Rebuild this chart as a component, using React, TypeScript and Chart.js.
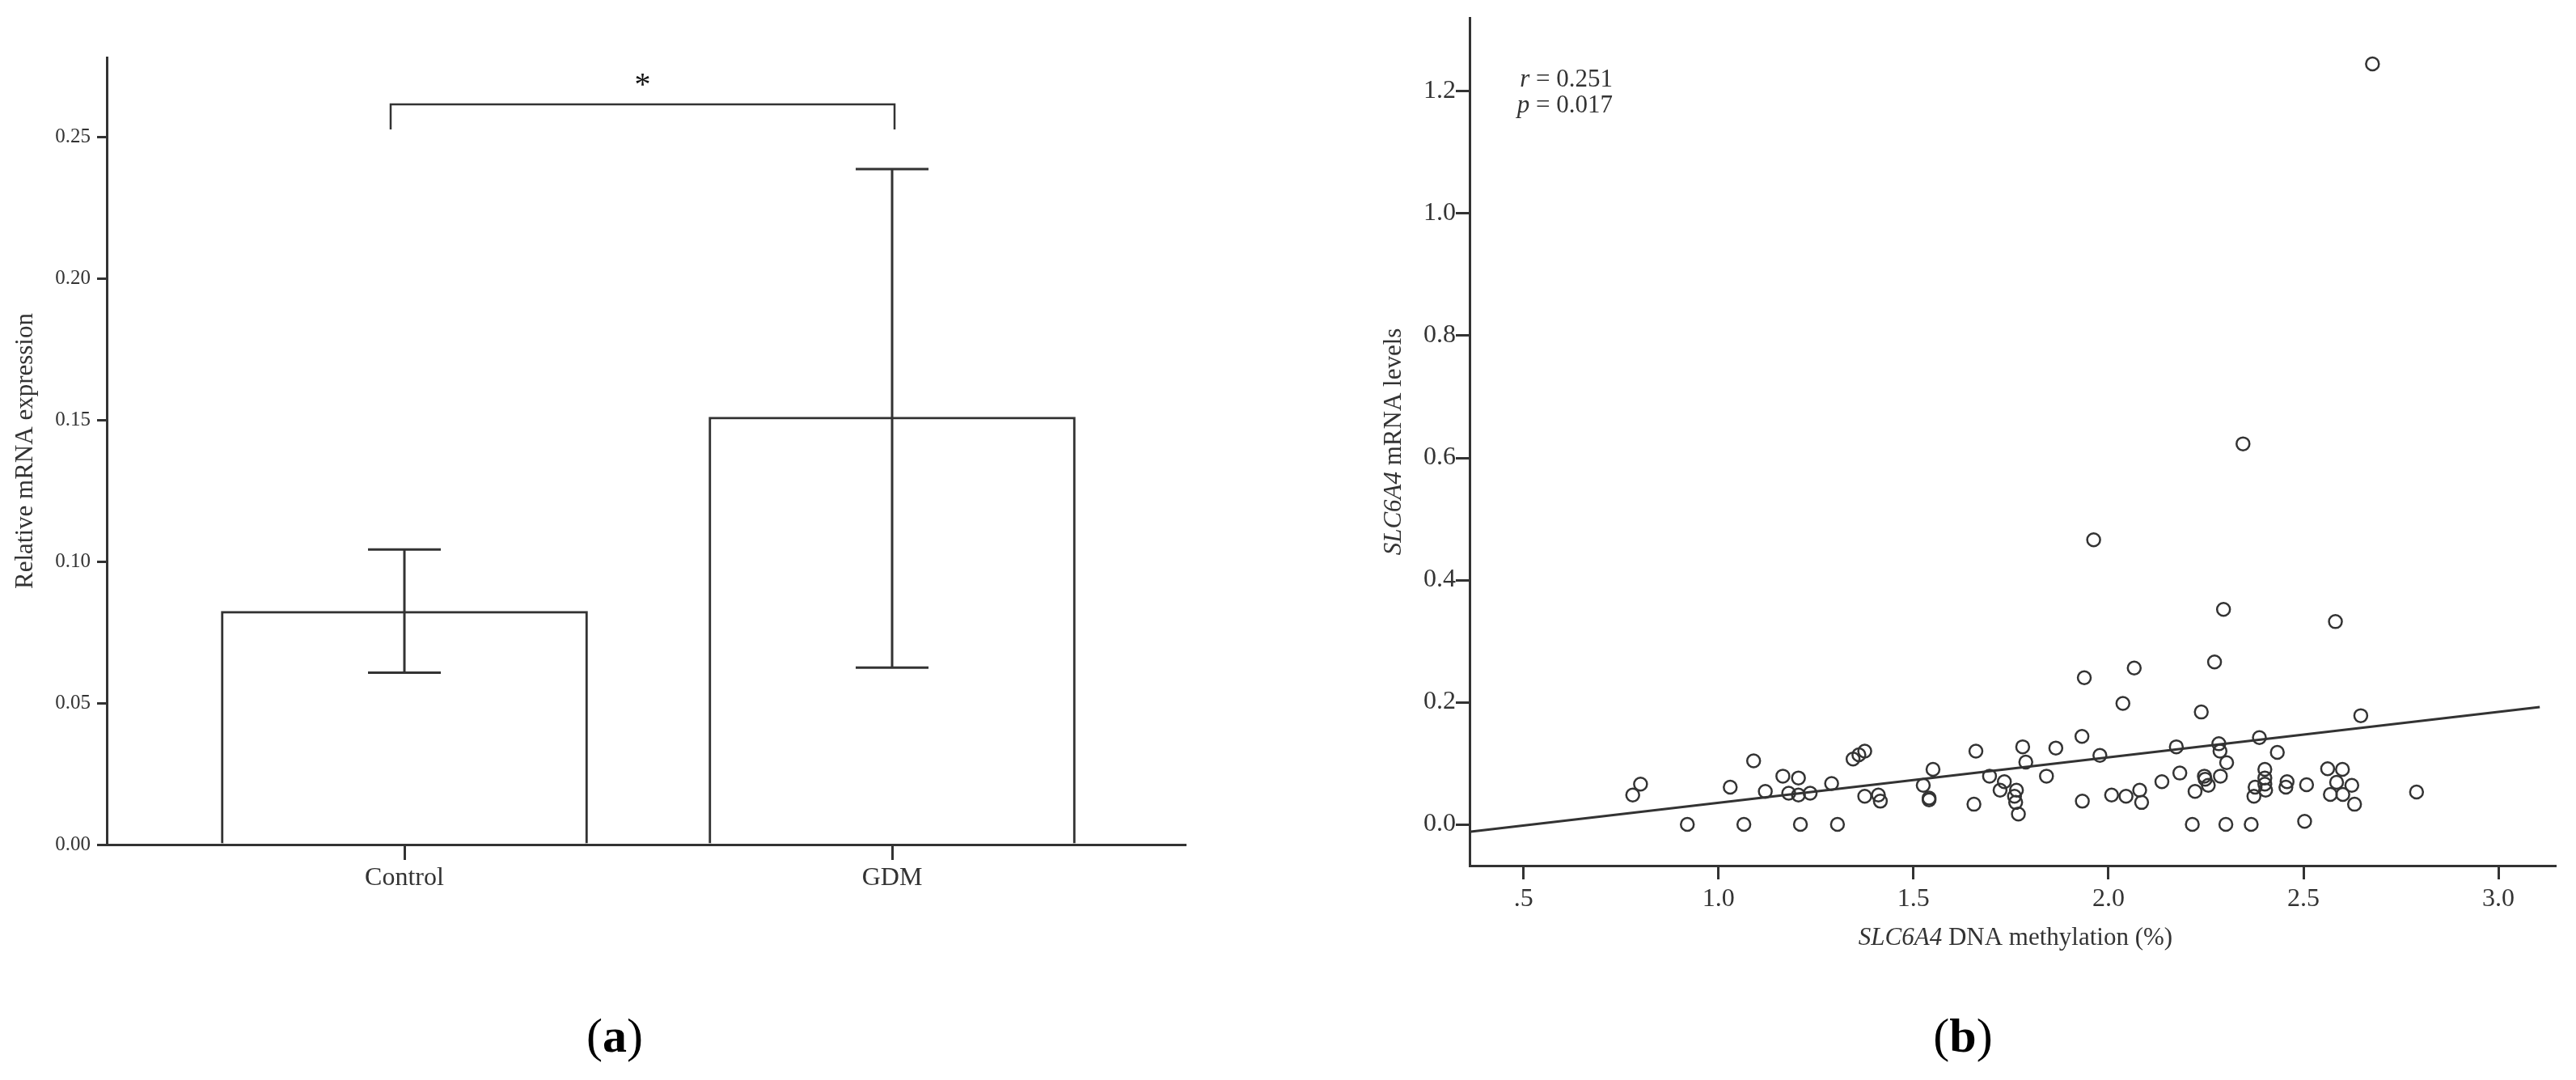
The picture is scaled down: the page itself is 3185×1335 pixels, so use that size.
import React, { useEffect, useRef } from 'react';
import { Chart, registerables } from 'chart.js';

Chart.register(...registerables);

const FONT = "'Liberation Serif', 'Times New Roman', serif";
const INK = '#333333';

// ---------- Panel (a): bar chart with SD error bars ----------
const barCategories = ['Control', 'GDM'];
const barMeans = [0.0824, 0.151];
const barUpper = [0.1042, 0.2386];
const barLower = [0.0607, 0.0625];
const bracketTop = 0.2614;
const bracketLegEnd = 0.2526;
const sigMark = '*';
const yTicksA = [0, 0.05, 0.1, 0.15, 0.2, 0.25];
const yLabelA = 'Relative mRNA expression';

// ---------- Panel (b): scatter with regression line ----------
const methylation = [
  0.78, 0.80, 0.92, 1.03, 1.065, 1.09, 1.12, 1.165, 1.18, 1.205,
  1.205, 1.21, 1.235, 1.29, 1.305, 1.345, 1.36, 1.375, 1.375, 1.41,
  1.415, 1.525, 1.54, 1.54, 1.55, 1.655, 1.66, 1.695, 1.722, 1.733,
  1.764, 1.759, 1.762, 1.769, 1.78, 1.788, 1.841, 1.865, 1.932, 1.933,
  1.938, 1.962, 1.978, 2.008, 2.037, 2.045, 2.066, 2.08, 2.085, 2.137,
  2.174, 2.183, 2.215, 2.222, 2.238, 2.246, 2.248, 2.256, 2.272, 2.283,
  2.286, 2.287, 2.295, 2.301, 2.303, 2.345, 2.366, 2.373, 2.376, 2.387,
  2.401, 2.401, 2.401, 2.403, 2.433, 2.455, 2.458, 2.503, 2.508, 2.562,
  2.569, 2.582, 2.585, 2.6, 2.601, 2.624, 2.631, 2.647, 2.677, 2.79,
];
const mrnaLevels = [
  0.048, 0.066, 0.0, 0.061, 0.0, 0.104, 0.054, 0.079, 0.051, 0.076,
  0.048, 0.0, 0.051, 0.067, 0.0, 0.107, 0.114, 0.12, 0.046, 0.048,
  0.038, 0.064, 0.043, 0.04, 0.09, 0.033, 0.12, 0.079, 0.056, 0.07,
  0.056, 0.046, 0.036, 0.017, 0.127, 0.102, 0.079, 0.125, 0.144, 0.038,
  0.24, 0.466, 0.113, 0.048, 0.198, 0.046, 0.256, 0.056, 0.036, 0.07,
  0.127, 0.084, 0.0, 0.054, 0.184, 0.079, 0.074, 0.064, 0.266, 0.132,
  0.12, 0.079, 0.352, 0.0, 0.101, 0.623, 0.0, 0.046, 0.061, 0.142,
  0.09, 0.076, 0.066, 0.056, 0.118, 0.061, 0.07, 0.005, 0.065, 0.091,
  0.049, 0.332, 0.069, 0.09, 0.049, 0.064, 0.033, 0.178, 1.245, 0.053,
];
const fitX = [0.365, 3.106];
const fitY = [-0.012, 0.192];
const xTicksB = [0.5, 1.0, 1.5, 2.0, 2.5, 3.0];
const yTicksB = [0, 0.2, 0.4, 0.6, 0.8, 1.0, 1.2];
const geneName = 'SLC6A4';
const yLabelBRest = ' mRNA levels';
const xLabelBRest = ' DNA methylation (%)';
const statR = '0.251';
const statP = '0.017';

type Seg = { t: string; italic?: boolean };

function drawRich(
  ctx: CanvasRenderingContext2D,
  segs: Seg[],
  x: number,
  y: number,
  size: number,
  align: 'left' | 'center' | 'right'
) {
  const fontFor = (s: Seg) => `${s.italic ? 'italic ' : ''}${size}px ${FONT}`;
  let total = 0;
  const widths = segs.map((s) => {
    ctx.font = fontFor(s);
    const w = ctx.measureText(s.t).width;
    total += w;
    return w;
  });
  let cx = align === 'left' ? x : align === 'center' ? x - total / 2 : x - total;
  ctx.textAlign = 'left';
  ctx.textBaseline = 'middle';
  segs.forEach((s, i) => {
    ctx.font = fontFor(s);
    ctx.fillText(s.t, cx, y);
    cx += widths[i];
  });
}

const annotA = {
  id: 'annotA',
  afterDatasetsDraw(chart: any) {
    const { ctx } = chart;
    const x = chart.scales.x;
    const y = chart.scales.y;
    ctx.save();
    ctx.strokeStyle = INK;
    ctx.lineWidth = 3;
    barCategories.forEach((_, i) => {
      const px = x.getPixelForValue(i);
      const top = y.getPixelForValue(barUpper[i]);
      const bot = y.getPixelForValue(barLower[i]);
      ctx.beginPath();
      ctx.moveTo(px, top);
      ctx.lineTo(px, bot);
      ctx.moveTo(px - 45, top);
      ctx.lineTo(px + 45, top);
      ctx.moveTo(px - 45, bot);
      ctx.lineTo(px + 45, bot);
      ctx.stroke();
    });
    const x0 = x.getPixelForValue(0) - 17;
    const x1 = x.getPixelForValue(1) + 3;
    const yb = y.getPixelForValue(bracketTop);
    const yl = y.getPixelForValue(bracketLegEnd);
    ctx.lineWidth = 2.5;
    ctx.beginPath();
    ctx.moveTo(x0, yl);
    ctx.lineTo(x0, yb);
    ctx.lineTo(x1, yb);
    ctx.lineTo(x1, yl);
    ctx.stroke();
    ctx.fillStyle = '#111';
    ctx.font = `40px ${FONT}`;
    ctx.textAlign = 'center';
    ctx.textBaseline = 'alphabetic';
    ctx.fillText(sigMark, (x0 + x1) / 2, yb - 12);

    ctx.save();
    ctx.translate(32, (chart.chartArea.top + chart.chartArea.bottom) / 2);
    ctx.rotate(-Math.PI / 2);
    ctx.fillStyle = INK;
    ctx.font = `31px ${FONT}`;
    ctx.textAlign = 'center';
    ctx.textBaseline = 'middle';
    ctx.fillText(yLabelA, 0, 0);
    ctx.restore();
    ctx.restore();
  },
};

const annotB = {
  id: 'annotB',
  afterDraw(chart: any) {
    const { ctx, chartArea } = chart;
    ctx.save();
    ctx.fillStyle = INK;
    ctx.save();
    ctx.translate(84, (chartArea.top + chartArea.bottom) / 2);
    ctx.rotate(-Math.PI / 2);
    drawRich(ctx, [{ t: geneName, italic: true }, { t: yLabelBRest }], 0, 0, 31, 'center');
    ctx.restore();
    drawRich(ctx, [{ t: geneName, italic: true }, { t: xLabelBRest }], 852, 1160, 31, 'center');
    drawRich(ctx, [{ t: 'r', italic: true }, { t: ' = ' + statR }], 354, 99, 31, 'right');
    drawRich(ctx, [{ t: 'p', italic: true }, { t: ' = ' + statP }], 354, 131, 31, 'right');
    ctx.restore();
  },
};

function PanelA() {
  const ref = useRef<HTMLCanvasElement | null>(null);
  useEffect(() => {
    if (!ref.current) return;
    const chart = new Chart(ref.current, {
      type: 'bar',
      data: {
        datasets: [
          {
            data: barMeans.map((v, i) => ({ x: i, y: v })),
            backgroundColor: '#ffffff',
            borderColor: INK,
            borderWidth: 3,
            barThickness: 453,
          } as any,
        ],
      },
      options: {
        responsive: false,
        animation: false,
        layout: { padding: { left: 0, top: 71, right: 55, bottom: 0 } },
        plugins: { legend: { display: false }, tooltip: { enabled: false } },
        scales: {
          x: {
            type: 'linear',
            offset: false,
            min: -0.6103,
            max: 1.6003,
            afterBuildTicks: (s: any) => {
              s.ticks = barCategories.map((_, i) => ({ value: i }));
            },
            ticks: {
              callback: (v: any) => barCategories[v] ?? '',
              font: { family: FONT, size: 32 },
              color: INK,
              padding: 3,
              autoSkip: false,
              maxRotation: 0,
            },
            grid: { display: true, offset: false, drawOnChartArea: false, drawTicks: true, tickLength: 19, color: INK, lineWidth: 3 },
            border: { display: true, color: INK, width: 3 },
            afterFit: (s: any) => {
              s.height = 156;
            },
          } as any,
          y: {
            type: 'linear',
            min: 0,
            max: 0.278,
            afterBuildTicks: (s: any) => {
              s.ticks = yTicksA.map((v) => ({ value: v }));
            },
            ticks: {
              callback: (v: any) => Number(v).toFixed(2),
              font: { family: FONT, size: 25 },
              color: INK,
              padding: 8,
            },
            grid: { display: true, drawOnChartArea: false, drawTicks: true, tickLength: 12, color: INK, lineWidth: 3 },
            border: { display: true, color: INK, width: 3 },
            afterFit: (s: any) => {
              s.width = 132;
            },
          } as any,
        },
      },
      plugins: [annotA],
    });
    return () => chart.destroy();
  }, []);
  return <canvas ref={ref} width={1520} height={1200} style={{ position: 'absolute', left: 0, top: 0, width: 1520, height: 1200 }} />;
}

function PanelB() {
  const ref = useRef<HTMLCanvasElement | null>(null);
  useEffect(() => {
    if (!ref.current) return;
    const chart = new Chart(ref.current, {
      type: 'scatter',
      data: {
        datasets: [
          {
            type: 'line',
            data: fitX.map((v, i) => ({ x: v, y: fitY[i] })),
            borderColor: INK,
            borderWidth: 3,
            pointRadius: 0,
            fill: false,
            tension: 0,
            order: 2,
          } as any,
          {
            type: 'scatter',
            data: methylation.map((v, i) => ({ x: v, y: mrnaLevels[i] })),
            pointStyle: 'circle',
            pointRadius: 8,
            borderWidth: 2.5,
            borderColor: INK,
            backgroundColor: 'rgba(0,0,0,0)',
            order: 1,
          } as any,
        ],
      },
      options: {
        responsive: false,
        animation: false,
        layout: { padding: { left: 0, top: 22, right: 26, bottom: 0 } },
        plugins: { legend: { display: false }, tooltip: { enabled: false } },
        scales: {
          x: {
            type: 'linear',
            min: 0.3616,
            max: 3.145,
            afterBuildTicks: (s: any) => {
              s.ticks = xTicksB.map((v) => ({ value: v }));
            },
            ticks: {
              callback: (v: any) => Number(v).toFixed(1).replace(/^0\./, '.'),
              font: { family: FONT, size: 32 },
              color: INK,
              padding: 5,
              autoSkip: false,
              maxRotation: 0,
            },
            grid: { display: true, drawOnChartArea: false, drawTicks: true, tickLength: 17, color: INK, lineWidth: 3 },
            border: { display: true, color: INK, width: 3 },
            afterFit: (s: any) => {
              s.height = 150;
            },
          } as any,
          y: {
            type: 'linear',
            min: -0.0675,
            max: 1.3205,
            afterBuildTicks: (s: any) => {
              s.ticks = yTicksB.map((v) => ({ value: v }));
            },
            ticks: {
              callback: (v: any) => Number(v).toFixed(1),
              font: { family: FONT, size: 32 },
              color: INK,
              padding: 0,
            },
            grid: { display: true, drawOnChartArea: false, drawTicks: true, tickLength: 17, color: INK, lineWidth: 3 },
            border: { display: true, color: INK, width: 3 },
            afterFit: (s: any) => {
              s.width = 177;
            },
          } as any,
        },
      },
      plugins: [annotB],
    });
    return () => chart.destroy();
  }, []);
  return <canvas ref={ref} width={1545} height={1220} style={{ position: 'absolute', left: 1640, top: 0, width: 1545, height: 1220 }} />;
}

const panelLabelStyle: React.CSSProperties = {
  position: 'absolute',
  top: 1280,
  transform: 'translate(-50%, -50%)',
  fontFamily: FONT,
  fontSize: 60,
  color: '#000',
  lineHeight: 1,
  whiteSpace: 'nowrap',
};

export default function App() {
  return (
    <div style={{ position: 'absolute', left: 0, top: 0, width: 3185, height: 1335, background: '#fff', overflow: 'hidden' }}>
      <PanelA />
      <PanelB />
      <div style={{ ...panelLabelStyle, left: 760 }}>
        (<b>a</b>)
      </div>
      <div style={{ ...panelLabelStyle, left: 2427 }}>
        (<b>b</b>)
      </div>
    </div>
  );
}
